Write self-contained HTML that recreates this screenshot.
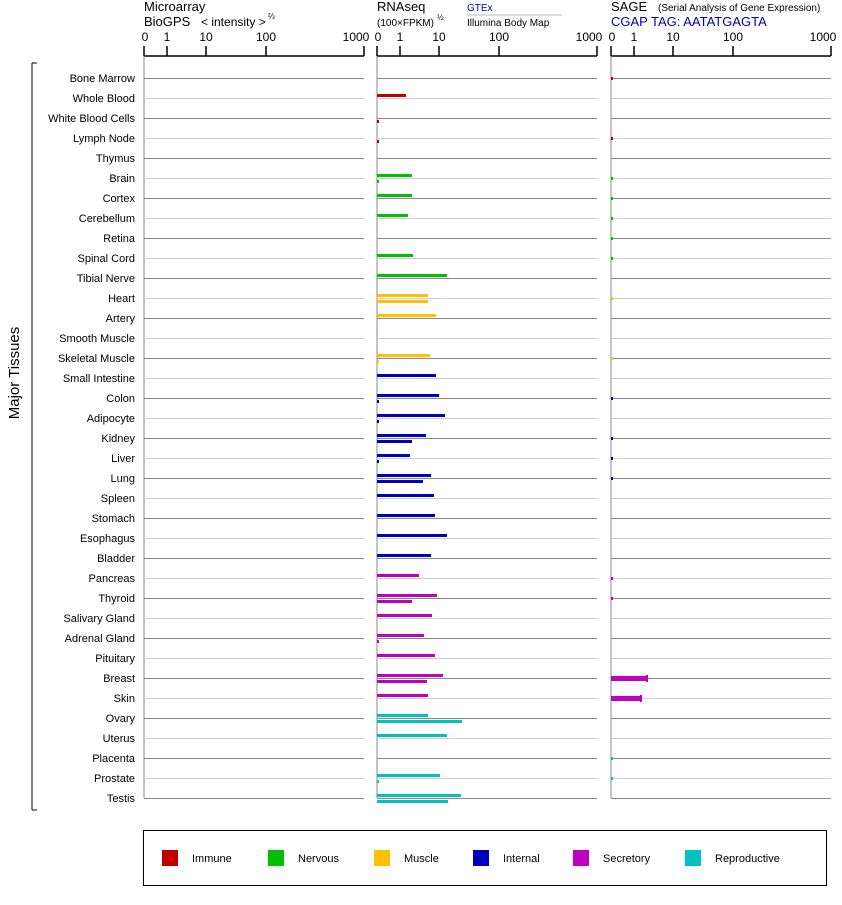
<!DOCTYPE html>
<html><head><meta charset="utf-8"><style>
body{margin:0;background:#fff;width:842px;height:900px;overflow:hidden;font-family:"Liberation Sans",sans-serif;}
</style></head><body>
<svg width="842" height="900" xmlns="http://www.w3.org/2000/svg" font-family="Liberation Sans, sans-serif">
<rect width="842" height="900" fill="#fff"/>
<g font-size="13" fill="#000">
<text x="144" y="11">Microarray</text>
<text x="144" y="26">BioGPS</text>
<text x="201" y="26" font-size="12">&lt; intensity &gt;</text>
<text x="268" y="19" font-size="8">⅔</text>
<text x="377" y="11">RNAseq</text>
<text x="377" y="26" font-size="10">(100×FPKM)</text>
<text x="437" y="20" font-size="8">½</text>
<text x="467" y="11" font-size="10" fill="#00a">GTEx</text>
<line x1="467" y1="15" x2="562" y2="15" stroke="#bbb"/>
<text x="467" y="26" font-size="10">Illumina Body Map</text>
<text x="611" y="11">SAGE</text>
<text x="658" y="11" font-size="10">(Serial Analysis of Gene Expression)</text>
<text x="611" y="26" fill="#00a">CGAP TAG: AATATGAGTA</text>
</g>
<g id="axes" font-size="12" text-anchor="middle"></g>
<line x1="32" y1="63" x2="32" y2="810" stroke="#000"/>
<line x1="32" y1="63" x2="37" y2="63" stroke="#000"/>
<line x1="32" y1="810" x2="37" y2="810" stroke="#000"/>
<text transform="translate(19,373) rotate(-90)" font-size="15" text-anchor="middle">Major Tissues</text>
<g id="rows"></g>
<rect x="143.5" y="830.5" width="683" height="55" fill="none" stroke="#000"/>
<g font-size="11">
<rect x="162" y="850" width="16" height="16" fill="#c00000"/><text x="192" y="862">Immune</text>
<rect x="268" y="850" width="16" height="16" fill="#00c000"/><text x="298" y="862">Nervous</text>
<rect x="374" y="850" width="16" height="16" fill="#ffc000"/><text x="404" y="862">Muscle</text>
<rect x="473" y="850" width="16" height="16" fill="#0000c0"/><text x="503" y="862">Internal</text>
<rect x="573" y="850" width="16" height="16" fill="#c000c0"/><text x="603" y="862">Secretory</text>
<rect x="685" y="850" width="16" height="16" fill="#00c0c0"/><text x="715" y="862">Reproductive</text>
</g>
<script>
var ns="http://www.w3.org/2000/svg";
function el(p,t,a,txt){var e=document.createElementNS(ns,t);for(var k in a)e.setAttribute(k,a[k]);if(txt)e.textContent=txt;p.appendChild(e);return e;}
var ax=document.getElementById('axes'),rows=document.getElementById('rows');
var P=[144,377,611],offs=[0,23,62,122,220],labs=['0','1','10','100','1000'];
P.forEach(function(x0){
 el(ax,'line',{x1:x0,y1:56,x2:x0+220,y2:56,stroke:'#000','stroke-width':1.5});
 offs.forEach(function(o,i){el(ax,'line',{x1:x0+o,y1:46,x2:x0+o,y2:56,stroke:'#000','stroke-width':1.5});
  var tx=x0+o; if(i==4)tx-=8; if(i==0)tx+=1;
  el(ax,'text',{x:tx,y:41},labs[i]);});
 el(ax,'line',{x1:x0,y1:56,x2:x0,y2:798,stroke:'#888'});
});
var C={I:'#c00000',N:'#00c000',M:'#ffc000',T:'#0000c0',S:'#c000c0',R:'#00c0c0'};
var D=[
['Bone Marrow','I',0,0,1],['Whole Blood','I',406,0,0],['White Blood Cells','I',0,379,0],['Lymph Node','I',0,379,1],['Thymus','I',0,0,0],
['Brain','N',412,379,1],['Cortex','N',412,0,1],['Cerebellum','N',408,0,1],['Retina','N',0,0,1],['Spinal Cord','N',413,0,1],['Tibial Nerve','N',447,0,0],
['Heart','M',428,428,1],['Artery','M',436,0,0],['Smooth Muscle','M',0,0,0],['Skeletal Muscle','M',430,379,1],
['Small Intestine','T',436,0,0],['Colon','T',439,379,1],['Adipocyte','T',445,379,0],['Kidney','T',426,412,1],['Liver','T',410,379,1],['Lung','T',431,423,1],['Spleen','T',434,0,0],['Stomach','T',435,0,0],['Esophagus','T',447,0,0],['Bladder','T',431,0,0],
['Pancreas','S',419,0,1],['Thyroid','S',437,412,1],['Salivary Gland','S',432,0,0],['Adrenal Gland','S',424,379,0],['Pituitary','S',435,0,0],['Breast','S',443,427,647],['Skin','S',428,0,641],
['Ovary','R',428,462,0],['Uterus','R',447,0,0],['Placenta','R',0,0,1],['Prostate','R',440,379,1],['Testis','R',461,448,0]];
D.forEach(function(d,i){
 var y=78+i*20,c=C[d[1]],st=i%2==0?'#888':'#ccc';
 el(rows,'text',{x:135,y:y+4,'font-size':11,'text-anchor':'end'},d[0]);
 P.forEach(function(x0){el(rows,'line',{x1:x0,y1:y+0.5,x2:x0+220,y2:y+0.5,stroke:st});});
 if(d[2])el(rows,'rect',{x:377,y:y-4,width:d[2]-377,height:3,fill:c});
 if(d[3])el(rows,'rect',{x:377,y:y+2,width:d[3]-377,height:3,fill:c});
 if(d[4]==1)el(rows,'rect',{x:611,y:y-1,width:2,height:3,fill:c});
 else if(d[4]>1){el(rows,'rect',{x:611,y:y-2,width:d[4]-611,height:5,fill:c});el(rows,'rect',{x:d[4]-1,y:y-3,width:2,height:7,fill:c});}
});
</script>
</svg>
</body></html>
